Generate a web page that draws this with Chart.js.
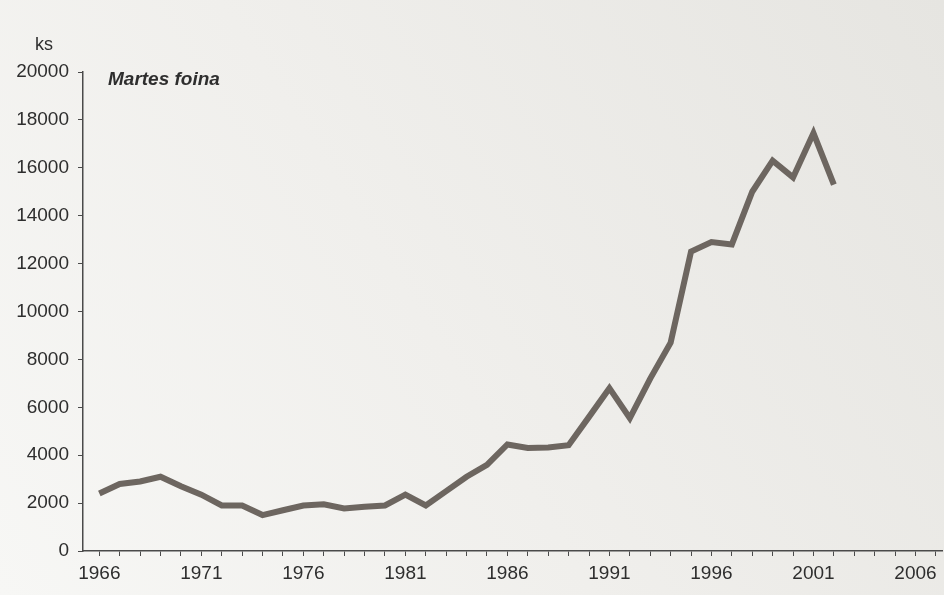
<!DOCTYPE html>
<html>
<head>
<meta charset="utf-8">
<script src="https://cdn.jsdelivr.net/npm/chart.js@4"></script>
<style>
  html, body { margin: 0; padding: 0; background: #f1f0ed; }
  #wrap { width: 944px; height: 595px; position: relative; }
</style>
</head>
<body>
<div id="wrap"><canvas id="chart" width="944" height="595"></canvas></div>
<script>
// data
const years = [1966, 1967, 1968, 1969, 1970, 1971, 1972, 1973, 1974, 1975,
               1976, 1977, 1978, 1979, 1980, 1981, 1982, 1983, 1984, 1985,
               1986, 1987, 1988, 1989, 1990, 1991, 1992, 1993, 1994, 1995,
               1996, 1997, 1998, 1999, 2000, 2001, 2002];
const counts = [2400, 2800, 2900, 3100, 2700, 2350, 1900, 1900, 1500, 1700,
                1900, 1950, 1780, 1850, 1900, 2350, 1900, 2500, 3100, 3600,
                4450, 4300, 4320, 4420, 5600, 6800, 5550, 7200, 8700, 12500,
                12900, 12800, 15000, 16300, 15600, 17450, 15300];
const yTicks = [0, 2000, 4000, 6000, 8000, 10000, 12000, 14000, 16000, 18000, 20000];
const xLabelYears = [1966, 1971, 1976, 1981, 1986, 1991, 1996, 2001, 2006];

const FONT = "'Liberation Sans', Arial, sans-serif";
const AXIS = "#4a4a4a";

// paper background + the two loose texts
const paper = {
    id: "paper",
    beforeDraw(chart) {
        const ctx = chart.ctx;
        const g = ctx.createLinearGradient(0, 595, 944, 0);
        g.addColorStop(0, "#f7f7f5");
        g.addColorStop(0.45, "#f0efec");
        g.addColorStop(1, "#e6e5e1");
        ctx.save();
        ctx.fillStyle = g;
        ctx.fillRect(0, 0, chart.width, chart.height);
        ctx.restore();
    },
    afterDraw(chart) {
        const ctx = chart.ctx;
        ctx.save();
        ctx.fillStyle = "#2e2e2e";
        ctx.textBaseline = "middle";
        ctx.font = "18px " + FONT;
        ctx.fillText("ks", 35, 45);
        ctx.font = "italic bold 19px " + FONT;
        ctx.fillText("Martes foina", 108, 80);
        ctx.restore();
    }
};

new Chart(document.getElementById("chart"), {
    type: "line",
    data: {
        datasets: [{
            data: years.map((y, i) => ({ x: y, y: counts[i] })),
            borderColor: "#6d6660",
            borderWidth: 6,
            pointRadius: 0,
            tension: 0,
            borderJoinStyle: "miter",
            clip: false
        }]
    },
    options: {
        responsive: false,
        animation: false,
        layout: { padding: { top: 72, right: 2, left: 0, bottom: 0 } },
        plugins: { legend: { display: false }, tooltip: { enabled: false } },
        scales: {
            x: {
                type: "linear",
                min: 1965.2,
                max: 2007.3,
                afterBuildTicks: (s) => {
                    s.ticks = [];
                    for (let v = 1966; v <= 2007; v++) s.ticks.push({ value: v });
                },
                afterFit: (s) => { s.height = 44; },
                grid: { drawOnChartArea: false, drawTicks: true, tickLength: 5, color: AXIS, lineWidth: 1 },
                border: { color: AXIS, width: 1.5 },
                ticks: {
                    autoSkip: false,
                    maxRotation: 0,
                    padding: 6,
                    color: "#2e2e2e",
                    font: { family: FONT, size: 19 },
                    callback: (v) => xLabelYears.includes(v) ? String(v) : ""
                }
            },
            y: {
                min: 0,
                max: 20000,
                afterBuildTicks: (s) => { s.ticks = yTicks.map(v => ({ value: v })); },
                afterFit: (s) => { s.width = 83; },
                grid: { drawOnChartArea: false, drawTicks: true, tickLength: 5, color: AXIS, lineWidth: 1 },
                border: { color: AXIS, width: 1.5 },
                ticks: {
                    padding: 9,
                    color: "#2e2e2e",
                    font: { family: FONT, size: 19 },
                    callback: (v) => String(v)
                }
            }
        }
    },
    plugins: [paper]
});
</script>
</body>
</html>
